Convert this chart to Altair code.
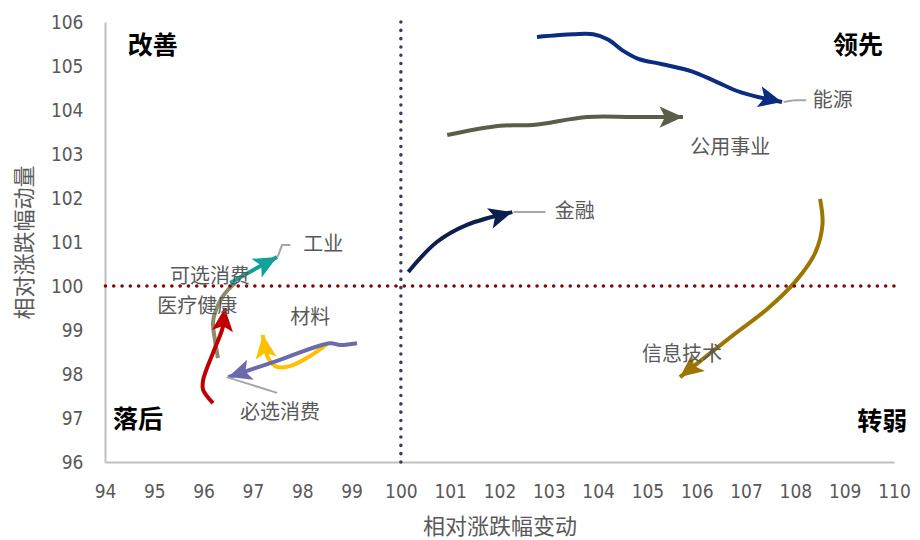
import math
import altair as alt
import pandas as pd

# ---------------- data ----------------
series_names = ["公用事业", "能源", "金融", "信息技术", "材料", "必选消费", "可选消费", "医疗健康", "工业"]
series_colors = ["#5a5d47", "#0a2d7f", "#0d1f4e", "#9c7600", "#ffc000", "#6a6aad", "#8e8d6b", "#c00000", "#11a19a"]

x_公用事业 = [100.94, 102.01, 102.68, 103.78, 104.71, 105.72]
y_公用事业 = [103.43, 103.64, 103.66, 103.84, 103.84, 103.84]

x_能源 = [102.76, 103.50, 103.90, 104.20, 104.50, 104.80, 105.30, 105.90, 106.40, 106.90, 107.73]
y_能源 = [105.66, 105.72, 105.72, 105.60, 105.35, 105.17, 105.04, 104.88, 104.64, 104.40, 104.18]

x_金融 = [100.15, 100.73, 101.34, 102.26]
y_金融 = [100.32, 101.00, 101.39, 101.68]

x_信息技术 = [108.50, 108.55, 108.40, 108.00, 107.40, 106.70, 105.66]
y_信息技术 = [101.98, 101.40, 100.75, 100.10, 99.45, 98.85, 97.93]

x_材料 = [98.50, 98.16, 97.75, 97.49, 97.31, 97.23, 97.20]
y_材料 = [98.68, 98.41, 98.18, 98.16, 98.36, 98.66, 98.89]

x_必选消费 = [99.11, 98.77, 98.56, 97.49, 96.50]
y_必选消费 = [98.70, 98.66, 98.70, 98.30, 97.93]

x_可选消费 = [96.29, 96.23, 96.19, 96.23, 96.37, 96.49, 96.64]
y_可选消费 = [98.36, 98.77, 99.16, 99.39, 99.73, 99.91, 100.07]

x_医疗健康 = [96.19, 95.99, 95.99, 96.19, 96.39, 96.43]
y_医疗健康 = [97.34, 97.64, 97.86, 98.48, 99.07, 99.50]

x_工业 = [96.54, 97.00, 97.49]
y_工业 = [100.07, 100.36, 100.66]

series_x = {"公用事业": x_公用事业, "能源": x_能源, "金融": x_金融, "信息技术": x_信息技术,
            "材料": x_材料, "必选消费": x_必选消费, "可选消费": x_可选消费,
            "医疗健康": x_医疗健康, "工业": x_工业}
series_y = {"公用事业": y_公用事业, "能源": y_能源, "金融": y_金融, "信息技术": y_信息技术,
            "材料": y_材料, "必选消费": y_必选消费, "可选消费": y_可选消费,
            "医疗健康": y_医疗健康, "工业": y_工业}
has_arrow = {"可选消费": False}

label_text = ["能源", "公用事业", "金融", "信息技术", "工业", "可选消费", "医疗健康", "材料", "必选消费"]
label_x = [108.35, 106.68, 103.12, 105.70, 98.02, 96.13, 95.87, 98.16, 97.55]
label_y = [104.20, 103.14, 101.68, 98.43, 100.93, 100.20, 99.52, 99.27, 97.11]
label_align = ["left", "center", "left", "center", "left", "center", "center", "center", "center"]

leader_ids = ["能源", "能源", "能源", "金融", "金融", "工业", "工业", "工业", "必选消费", "必选消费"]
leader_x = [107.76, 107.98, 108.22, 102.28, 102.93, 97.50, 97.59, 97.76, 96.47, 97.49]
leader_y = [104.18, 104.22, 104.22, 101.68, 101.68, 100.66, 100.93, 100.93, 97.93, 97.57]

quad_text = ["改善", "领先", "落后", "转弱"]
quad_x = [94.97, 109.27, 94.67, 109.76]
quad_y = [105.45, 105.45, 96.95, 96.91]

x_ticks = list(range(94, 111))
y_ticks = list(range(96, 107))
ref_x = [100]
ref_y = [100]

# ---------------- chart ----------------
W, H = 789, 440
XMIN, XMAX, YMIN, YMAX = 94, 110, 96, 106
SX = W / (XMAX - XMIN)
SY = H / (YMAX - YMIN)

CJK = "Noto Sans CJK SC"
NUM = "Liberation Sans Narrow, DejaVu Sans Condensed, Liberation Sans, sans-serif"

xaxis = alt.Axis(values=x_ticks, title="相对涨跌幅变动", grid=False, ticks=False,
                 domainColor="#bfbfbf", domainWidth=2, labelFont=NUM, labelFontSize=19,
                 labelColor="#595959", labelPadding=20, titleFont=CJK, titleFontSize=22,
                 titleFontWeight="normal", titleColor="#595959", titlePadding=15, labelFlush=False)
yaxis = alt.Axis(values=y_ticks, title="相对涨跌幅动量", grid=False, ticks=False,
                 domainColor="#bfbfbf", domainWidth=2, labelFont=NUM, labelFontSize=19,
                 labelColor="#595959", labelPadding=22, titleFont=CJK, titleFontSize=22,
                 titleFontWeight="normal", titleColor="#595959", titlePadding=14, labelFlush=False)

X = alt.X("x:Q", scale=alt.Scale(domain=[XMIN, XMAX], nice=False, zero=False), axis=xaxis)
Y = alt.Y("y:Q", scale=alt.Scale(domain=[YMIN, YMAX], nice=False, zero=False), axis=yaxis)

ARROW = "M0,0 L0.5,1.1 L0,0.85 L-0.5,1.1 Z"

layers = []
for name, col in zip(series_names, series_colors):
    xs, ys = series_x[name], series_y[name]
    df = pd.DataFrame({"x": xs, "y": ys, "i": list(range(len(xs)))})
    layers.append(
        alt.Chart(df).mark_line(interpolate="catmull-rom", strokeWidth=4, color=col,
                                strokeCap="butt", strokeJoin="round")
        .encode(x=X, y=Y, order=alt.Order("i:Q"))
    )
    if has_arrow.get(name, True):
        dx = (xs[-1] - xs[-2]) * SX
        dy = (ys[-1] - ys[-2]) * SY
        ang = math.degrees(math.atan2(dx, dy)) % 360
        tip = pd.DataFrame({"x": [xs[-1]], "y": [ys[-1]]})
        layers.append(
            alt.Chart(tip).mark_point(shape=ARROW, size=1800, filled=True, color=col,
                                      opacity=1, strokeWidth=0, angle=ang)
            .encode(x=X, y=Y)
        )

leaders = pd.DataFrame({"g": leader_ids, "x": leader_x, "y": leader_y,
                        "i": list(range(len(leader_x)))})
layers.append(
    alt.Chart(leaders).mark_line(color="#a6a6a6", strokeWidth=2)
    .encode(x=X, y=Y, detail="g:N", order=alt.Order("i:Q"))
)

hrule = alt.Chart(pd.DataFrame({"y": ref_y})).mark_rule(
    color="#7b0a0a", strokeWidth=3.5, strokeDash=[0.1, 8.2], strokeCap="round"
).encode(y=Y)
vrule = alt.Chart(pd.DataFrame({"x": ref_x})).mark_rule(
    color="#3b3b6b", strokeWidth=3.5, strokeDash=[0.1, 8.2], strokeCap="round"
).encode(x=X)
layers += [hrule, vrule]

labels = pd.DataFrame({"t": label_text, "x": label_x, "y": label_y, "a": label_align})
for al in ["left", "center"]:
    layers.append(
        alt.Chart(labels[labels["a"] == al]).mark_text(
            font=CJK, fontSize=20, color="#595959", align=al, baseline="middle"
        ).encode(x=X, y=Y, text="t:N")
    )

quads = pd.DataFrame({"t": quad_text, "x": quad_x, "y": quad_y})
layers.append(
    alt.Chart(quads).mark_text(font=CJK, fontSize=25, fontWeight="bold", color="#000000",
                               align="center", baseline="middle")
    .encode(x=X, y=Y, text="t:N")
)

chart = alt.layer(*layers).properties(
    width=W, height=H,
    autosize=alt.AutoSizeParams(type="none"),
    padding={"left": 105, "top": 22, "right": 26, "bottom": 78},
    background="white",
).configure_view(stroke=None)

chart.save("out.html", embed_options={"renderer": "svg", "actions": False})
